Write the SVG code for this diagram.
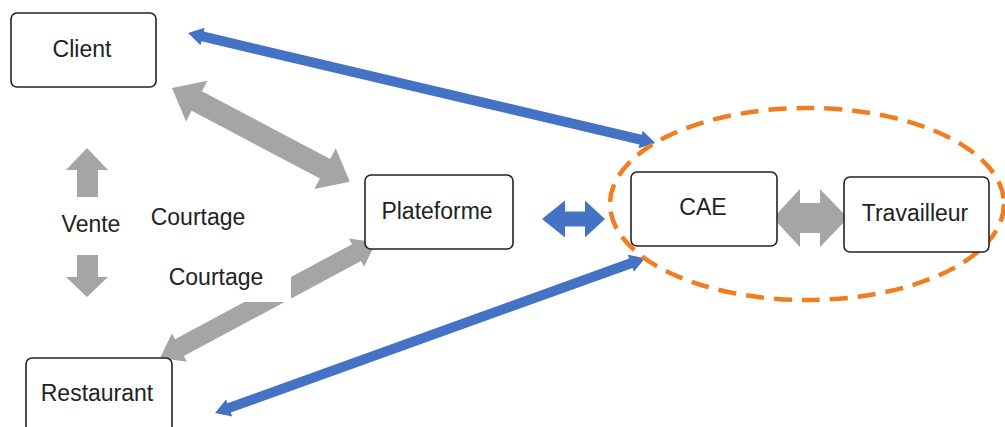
<svg xmlns="http://www.w3.org/2000/svg" width="1005" height="427" viewBox="0 0 1005 427">
<style>
.box{fill:#fff;stroke:#222;stroke-width:1.6}
.lbl{font-family:"Liberation Sans",Arial,sans-serif;font-size:23px;fill:#222;text-anchor:middle}
.gray{fill:#A5A5A5}
.blue{fill:#4472C4}
</style>
<rect width="1005" height="427" fill="#fff"/>
<g id="connectors">
  <!-- Client <-> Plateforme -->
  <path class="gray" transform="translate(172,88) rotate(27.8)" d="M0,0 L28,-23 L28,-11 L173,-11 L173,-23 L201,0 L173,23 L173,11 L28,11 L28,23 Z"/>
  <!-- Restaurant <-> Plateforme -->
  <path class="gray" transform="translate(160,358) rotate(-28.2)" d="M0,0 L22,-16 L22,-9.5 L223,-9.5 L223,-16 L245,0 L223,16 L223,9.5 L22,9.5 L22,16 Z"/>
  <!-- white text box occluding the arrow -->
  <rect x="160" y="262" width="131" height="40" fill="#fff"/>
  <!-- Client <-> CAE -->
  <path class="blue" transform="translate(188,33) rotate(13.25)" d="M0,0 L15,-9 L15,-5 L465,-5 L465,-9 L480,0 L465,9 L465,5 L15,5 L15,9 Z"/>
  <!-- Restaurant <-> CAE -->
  <path class="blue" transform="translate(215,413) rotate(-19.8)" d="M0,0 L15,-9 L15,-5 L442,-5 L442,-9 L457,0 L442,9 L442,5 L15,5 L15,9 Z"/>
  <!-- Plateforme <-> CAE -->
  <path class="blue" d="M542,219 L565,200.5 L565,211.5 L585,211.5 L585,200.5 L605,219 L585,237.5 L585,226.5 L565,226.5 L565,237.5 Z"/>
  <!-- CAE <-> Travailleur -->
  <path class="gray" d="M773,218 L800,189 L800,203 L820,203 L820,189 L848,218 L820,247 L820,233 L800,233 L800,247 Z"/>
  <!-- Vente arrows -->
  <path class="gray" d="M87,148 L108,170 L98,170 L98,197 L77,197 L77,170 L66,170 Z"/>
  <path class="gray" d="M87,297 L108,277 L98,277 L98,255 L77,255 L77,277 L66,277 Z"/>
</g>
<g id="group-ellipse">
  <ellipse cx="807" cy="204" rx="197" ry="96" fill="none" stroke="#F27D21" stroke-width="4.5" stroke-dasharray="18 10"/>
</g>
<g id="node-client">
  <rect class="box" x="11" y="13" width="145" height="74" rx="6"/>
  <text class="lbl" x="82" y="57">Client</text>
</g>
<g id="node-plateforme">
  <rect class="box" x="365" y="175" width="148" height="74" rx="6"/>
  <text class="lbl" x="437" y="219">Plateforme</text>
</g>
<g id="node-cae">
  <rect class="box" x="631" y="172" width="146" height="74" rx="6"/>
  <text class="lbl" x="703" y="215">CAE</text>
</g>
<g id="node-travailleur">
  <rect class="box" x="844" y="177" width="145" height="75" rx="6"/>
  <text class="lbl" x="915" y="221">Travailleur</text>
</g>
<g id="node-restaurant">
  <rect class="box" x="26" y="358" width="146" height="90" rx="6"/>
  <text class="lbl" x="97" y="401">Restaurant</text>
</g>
<g id="labels">
  <text class="lbl" x="91" y="232">Vente</text>
  <text class="lbl" x="198" y="225">Courtage</text>
  <text class="lbl" x="216" y="285">Courtage</text>
</g>
</svg>
